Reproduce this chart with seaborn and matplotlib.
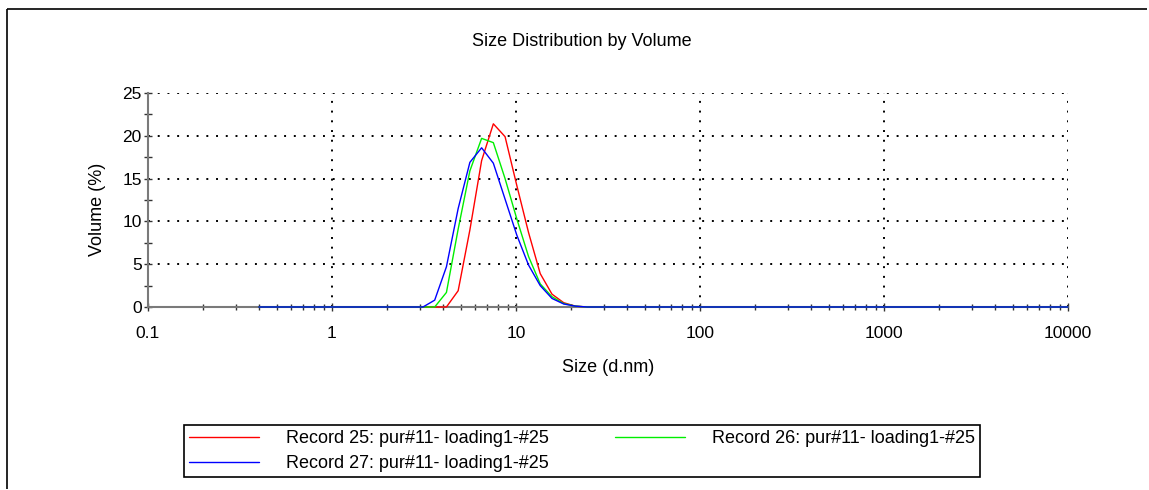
import numpy as np
import pandas as pd
import matplotlib
matplotlib.use("Agg")
import matplotlib.pyplot as plt
from matplotlib.lines import Line2D
from matplotlib.ticker import FixedLocator, MultipleLocator, NullFormatter
import seaborn as sns

# Zetasizer size classes (d.nm)
size_nm = [0.4000, 0.4632, 0.5365, 0.6213, 0.7195, 0.8332, 0.9649, 1.117, 1.294, 1.499,
           1.736, 2.010, 2.328, 2.696, 3.122, 3.615, 4.187, 4.849, 5.615, 6.503,
           7.531, 8.721, 10.10, 11.70, 13.54, 15.69, 18.17, 21.04, 24.36, 28.21,
           32.67, 37.84, 43.82, 50.75, 58.77, 68.06, 78.82, 91.28, 105.7, 122.4,
           141.8, 164.2, 190.1, 220.2, 255.0, 295.3, 342.0, 396.1, 458.7, 531.2,
           615.1, 712.4, 825.0, 955.4, 1106, 1281, 1484, 1718, 1990, 2305,
           2669, 3091, 3580, 4145, 4801, 5560, 6439, 7456, 8635, 10000]

# Volume (%) per size class
record_25 = [0, 0, 0, 0, 0, 0, 0, 0, 0, 0,
             0, 0, 0, 0, 0, 0, 0.0, 1.9, 9.0, 17.1,
             21.4, 19.9, 14.2, 8.7, 3.9, 1.5, 0.5, 0.1, 0, 0,
             0, 0, 0, 0, 0, 0, 0, 0, 0, 0,
             0, 0, 0, 0, 0, 0, 0, 0, 0, 0,
             0, 0, 0, 0, 0, 0, 0, 0, 0, 0,
             0, 0, 0, 0, 0, 0, 0, 0, 0, 0]
record_26 = [0, 0, 0, 0, 0, 0, 0, 0, 0, 0,
             0, 0, 0, 0, 0, 0.0, 1.7, 9.1, 15.9, 19.7,
             19.2, 15.0, 10.3, 5.9, 2.7, 1.2, 0.4, 0.1, 0, 0,
             0, 0, 0, 0, 0, 0, 0, 0, 0, 0,
             0, 0, 0, 0, 0, 0, 0, 0, 0, 0,
             0, 0, 0, 0, 0, 0, 0, 0, 0, 0,
             0, 0, 0, 0, 0, 0, 0, 0, 0, 0]
record_27 = [0, 0, 0, 0, 0, 0, 0, 0, 0, 0,
             0, 0, 0, 0, 0.0, 0.8, 4.7, 11.5, 16.9, 18.6,
             16.8, 12.6, 8.4, 4.9, 2.5, 1.0, 0.35, 0.1, 0, 0,
             0, 0, 0, 0, 0, 0, 0, 0, 0, 0,
             0, 0, 0, 0, 0, 0, 0, 0, 0, 0,
             0, 0, 0, 0, 0, 0, 0, 0, 0, 0,
             0, 0, 0, 0, 0, 0, 0, 0, 0, 0]

record_labels = ["Record 25: pur#11- loading1-#25",
                 "Record 26: pur#11- loading1-#25",
                 "Record 27: pur#11- loading1-#25"]
record_colors = ["#ff0000", "#00ee00", "#0000ff"]

x_ticks = [0.1, 1, 10, 100, 1000, 10000]
x_tick_labels = ["0.1", "1", "10", "100", "1000", "10000"]
y_ticks = [0, 5, 10, 15, 20, 25]

df = pd.DataFrame({
    "size": np.tile(size_nm, 3),
    "volume": np.concatenate([record_25, record_26, record_27]),
    "record": np.repeat(record_labels, len(size_nm)),
})

sns.set_theme(style="white")
plt.rcParams["font.family"] = ["Liberation Sans", "DejaVu Sans"]
plt.rcParams["text.color"] = "black"
plt.rcParams["axes.labelcolor"] = "black"

W, H = 1149, 490
fig = plt.figure(figsize=(W / 100, H / 100), dpi=100)
fig.patch.set_facecolor("white")
ax = fig.add_axes([148 / W, 183 / H, 920 / W, 214 / H])
ax.set_xscale("log")

sns.lineplot(data=df, x="size", y="volume", hue="record", hue_order=record_labels,
             palette=dict(zip(record_labels, record_colors)), estimator=None,
             errorbar=None, linewidth=1.0, legend=False, ax=ax)
for ln in ax.lines:
    ln.set_clip_on(False)
    ln.set_zorder(3)

ax.set_xlim(0.1, 10000)
ax.set_ylim(0, 25)

ax.xaxis.set_major_locator(FixedLocator(x_ticks))
ax.set_xticklabels(x_tick_labels)
minor_x = [m * 10.0 ** e for e in range(-1, 4) for m in range(2, 10)]
ax.xaxis.set_minor_locator(FixedLocator(minor_x))
ax.xaxis.set_minor_formatter(NullFormatter())
ax.set_yticks(y_ticks)
ax.yaxis.set_minor_locator(MultipleLocator(2.5))

ax.tick_params(axis="x", which="major", direction="inout", length=6, width=1.0,
               color="#333333", pad=10.5, labelsize=12.5, labelcolor="black")
ax.tick_params(axis="x", which="minor", direction="inout", length=4, width=1.0,
               color="#333333")
ax.tick_params(axis="y", which="both", direction="inout", length=6, width=1.0,
               color="#333333", pad=1.5, labelsize=12.5, labelcolor="black")
ax.tick_params(axis="both", which="both", bottom=True, left=True)

ax.grid(True, which="major", color="black", linestyle=(0, (1, 4)), linewidth=1.4)
ax.set_axisbelow(True)

for side in ("top", "right"):
    ax.spines[side].set_visible(False)
for side in ("left", "bottom"):
    ax.spines[side].set_color("#7a7a7a")
    ax.spines[side].set_linewidth(1.5)

ax.set_xlabel("Size (d.nm)", fontsize=13, va="center")
ax.xaxis.set_label_coords(0.5, -60 / 214)
ax.set_ylabel("Volume (%)", fontsize=13, va="center")
ax.yaxis.set_label_coords((97 - 148) / 920, (307 - 209) / 214)

fig.text(582 / W, 1 - 41 / H, "Size Distribution by Volume", ha="center",
         va="center", fontsize=13)

# frame lines along the top and left edges of the figure (kept just inside the canvas)
fig.add_artist(Line2D([7 / W, 7 / W], [1 / H, 1 - 9 / H],
                      transform=fig.transFigure, color="black", linewidth=1.2,
                      solid_capstyle="butt"))
fig.add_artist(Line2D([7 / W, 1147 / W], [1 - 9 / H, 1 - 9 / H],
                      transform=fig.transFigure, color="black", linewidth=1.2,
                      solid_capstyle="butt"))

# legend: two columns, Record 25 and 27 on the left, Record 26 on the right
handles = [Line2D([], [], color=c, linewidth=1.0) for c in record_colors]
order = [0, 2, 1]
leg = ax.legend([handles[i] for i in order], [record_labels[i] for i in order],
                ncol=2, loc="center", bbox_to_anchor=(582 / W, 1 - 451 / H),
                bbox_transform=fig.transFigure, fontsize=13, frameon=True,
                fancybox=False, shadow=False, framealpha=1, edgecolor="black",
                handlelength=3.88, handletextpad=1.5, columnspacing=3.63,
                borderpad=0.3, labelspacing=0.44)
leg.get_frame().set_linewidth(1.2)

fig.savefig("out.png", dpi=100, facecolor="white")
